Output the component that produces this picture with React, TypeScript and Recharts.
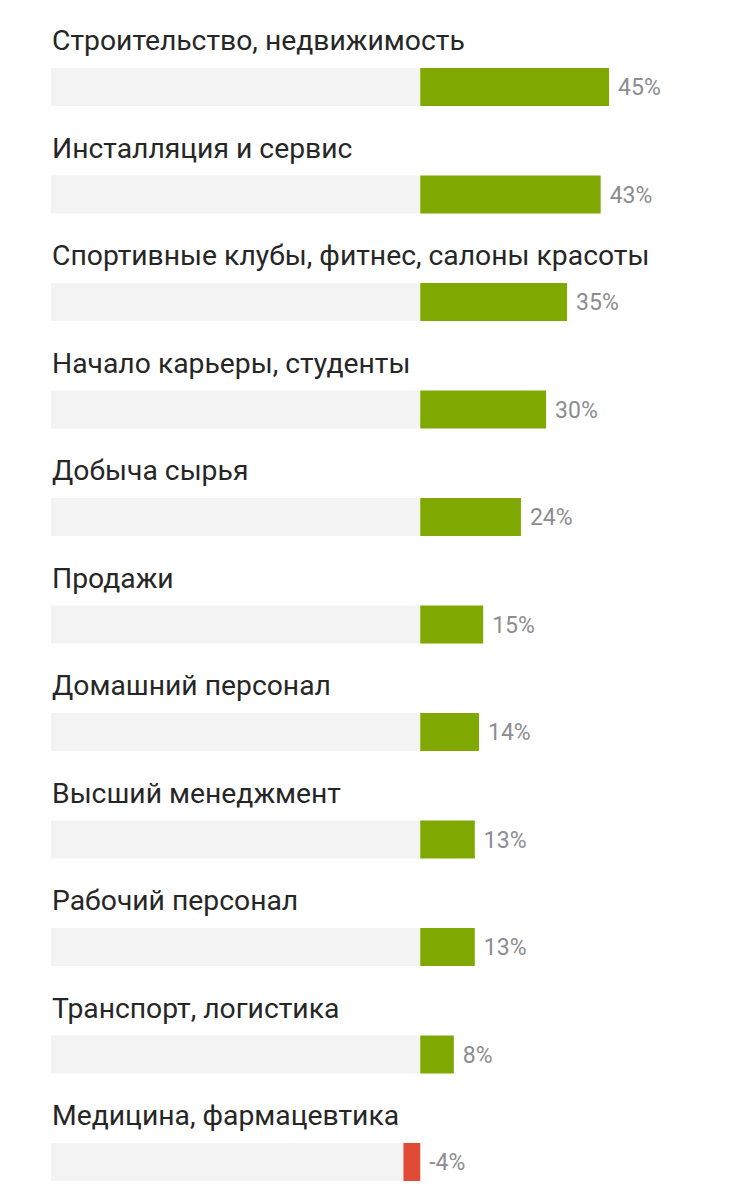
import { BarChart, Bar, XAxis, YAxis, Cell, LabelList } from "recharts";

const categories = [
  "Строительство, недвижимость",
  "Инсталляция и сервис",
  "Спортивные клубы, фитнес, салоны красоты",
  "Начало карьеры, студенты",
  "Добыча сырья",
  "Продажи",
  "Домашний персонал",
  "Высший менеджмент",
  "Рабочий персонал",
  "Транспорт, логистика",
  "Медицина, фармацевтика",
];

const growth = [45, 43, 35, 30, 24, 15, 14, 13, 13, 8, -4];

const trackValue = -88;
const xDomain = [-88, 60];

const data = categories.map((name, i) => ({
  name,
  value: growth[i],
  track: trackValue,
}));

const GREEN = "#7fa800";
const RED = "#e04b36";

// category name sits above the grey track
function NameLabel(props: any) {
  const { x, y, width, value } = props;
  const left = x + Math.min(width, 0);
  return (
    <text
      x={left + 1}
      y={y - 18}
      fill="#262626"
      fontSize={28.3}
      fontFamily="Roboto"
      textAnchor="start"
    >
      {value}
    </text>
  );
}

function ValueLabel(props: any) {
  const { x, y, width, height, value } = props;
  return (
    <text
      x={x + Math.max(width, 0) + 9}
      y={y + height / 2 + 8}
      fill="#8c8c91"
      fontSize={23}
      fontFamily="Roboto"
      textAnchor="start"
    >
      {value}%
    </text>
  );
}

export default function App() {
  return (
    <div style={{ width: 715, height: 1192 }}>
      <BarChart
        width={715}
        height={1192}
        data={data}
        layout="vertical"
        barSize={38}
        barGap={-38}
        margin={{ top: 25, right: 51, left: 43, bottom: -15.5 }}
      >
        <XAxis type="number" domain={xDomain} hide allowDataOverflow />
        <YAxis type="category" dataKey="name" hide />
        <Bar dataKey="track" fill="#f3f3f3" isAnimationActive={false}>
          <LabelList dataKey="name" content={<NameLabel />} />
        </Bar>
        <Bar dataKey="value" isAnimationActive={false}>
          {data.map((d, i) => (
            <Cell key={i} fill={d.value < 0 ? RED : GREEN} />
          ))}
          <LabelList dataKey="value" content={<ValueLabel />} />
        </Bar>
      </BarChart>
    </div>
  );
}
